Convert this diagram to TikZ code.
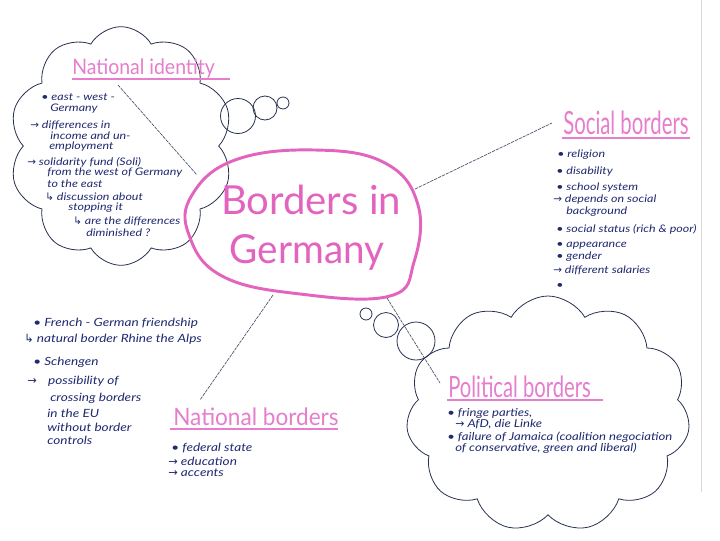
\documentclass[tikz,border=0pt]{standalone}
\usepackage{fontspec}
\usepackage{graphicx}
\setmainfont{Lato}
\newfontfamily\hand{Lato}[FakeStretch=1.2]
\newfontfamily\sym{DejaVu Sans}
\usetikzlibrary{shapes.symbols}
\definecolor{pinkh}{RGB}{230,125,205}
\definecolor{pinke}{RGB}{226,100,190}
\definecolor{navy}{RGB}{32,42,112}
\definecolor{cloudc}{RGB}{40,50,80}
\newcommand{\hd}[2]{\resizebox{#1pt}{\height}{#2}}
\newcommand{\ar}{{\sym\char"2192}}
\newcommand{\har}{{\sym\char"21B3}}
\begin{document}
\begin{tikzpicture}[x=0.75pt,y=-0.75pt,
  body/.style={anchor=west, inner sep=0pt, text=navy, font=\hand\fontsize{7.8}{9}\selectfont\itshape},
  bodym/.style={body, font=\hand\fontsize{8.5}{10}\selectfont\itshape},
  bodyp/.style={body, font=\hand\fontsize{8.2}{10}\selectfont\itshape},
  head/.style={anchor=west, inner sep=0pt, text=pinkh},
  uline/.style={draw=pinkh, line width=1.1pt},
  cl/.style={draw=cloudc, line width=0.6pt},
  conn/.style={draw=cloudc!85, line width=0.5pt, dash pattern=on 2.5pt off 0.7pt},
]
\useasboundingbox (0,0) rectangle (720,540);
\fill[white] (0,0) rectangle (720,540);
\draw[black!15, line width=0.6pt] (701,0) -- (701,492);

% ---------- clouds ----------
\node[cloud, cl, cloud puffs=10, cloud puff arc=120, cloud ignores aspect,
      minimum width=168pt, minimum height=179pt] (cloudA) at (121,146) {};
\draw[cl] (238,116) circle (17.5);
\draw[cl] (265,108) circle (12);
\draw[cl] (283,103) circle (6);

\node[cloud, cl, cloud puffs=11, cloud puff arc=120, cloud ignores aspect,
      minimum width=213pt, minimum height=177pt] (cloudB) at (548,414) {};
\draw[cl] (366,314) circle (6);
\draw[cl] (386,325) circle (12.5);
\draw[cl] (416,341) circle (19);

% ---------- central ellipse ----------
\draw[pinke, line width=2.2pt] plot[smooth cycle, tension=0.7] coordinates
  {(192,195) (235,160) (315,150) (385,163) (418,205) (414,262) (390,296) (300,294) (222,276) (189,235)};
\node[text=pinke, inner sep=0pt, font=\fontsize{30}{34}\selectfont] (t1) at (311,200) {\hd{135}{Borders in}};
\node[text=pinke, inner sep=0pt, font=\fontsize{30}{34}\selectfont] (t2) at (307,252) {\hd{116}{Germany}};

% ---------- connectors ----------
\coordinate (a1) at (118,85);  \coordinate (a2) at (197,175);
\coordinate (b1) at (415,189); \coordinate (b2) at (552,123);
\coordinate (c1) at (273,295); \coordinate (c2) at (200,400);
\coordinate (d1) at (387,298); \coordinate (d2) at (440,383);
\draw[conn] (a1) -- (a2);
\draw[conn] (b1) -- (b2);
\draw[conn] (c1) -- (c2);
\draw[conn] (d1) -- (d2);

% ---------- National identity ----------
\node[head, font=\fontsize{16}{18}\selectfont] (hA) at (72,68) {\hd{107}{National identity}};
\draw[uline] (72,79) -- (230,79);
\node[body] (a01) at (41,97) {• east - west -};
\node[body] (a02) at (50,109) {Germany};
\node[body] (a03) at (30,125) {\ar\ differences in};
\node[body] (a04) at (50,136) {income and un-};
\node[body] (a05) at (49,147) {employment};
\node[body] (a06) at (27,162) {\ar\ solidarity fund (Soli)};
\node[body] (a07) at (47,173) {from the west of Germany};
\node[body] (a08) at (47,184) {to the east};
\node[body] (a09) at (45,197) {\har\ discussion about};
\node[body] (a10) at (68,208) {stopping it};
\node[body] (a11) at (73,221) {\har\ are the differences};
\node[body] (a12) at (86,233) {diminished ?};

% ---------- Social borders ----------
\node[head, font=\fontsize{24}{26}\selectfont] (hB) at (563,123) {\hd{94}{Social borders}};
\draw[uline] (562,138) -- (690,138);
\node[body] (b01) at (557,155) {• religion};
\node[body] (b02) at (556,172) {• disability};
\node[body] (b03) at (556,188) {• school system};
\node[body] (b04) at (553,200) {\ar\ depends on social};
\node[body] (b05) at (566,212) {background};
\node[body] (b06) at (556,229) {• social status (rich \& poor)};
\node[body] (b07) at (556,246) {• appearance};
\node[body] (b08) at (556,257) {• gender};
\node[body] (b09) at (553,270) {\ar\ different salaries};
\node[body] (b10) at (556,286) {•};

% ---------- left text ----------
\node[bodym] (c01) at (33,323) {• French - German friendship};
\node[bodym] (c02) at (24,339) {\har\ natural border Rhine the Alps};
\node[bodym] (c03) at (33,362) {• Schengen};
\node[bodym] (c04) at (27,381) {\ar\quad possibility of};
\node[bodym] (c05) at (50,398) {crossing borders};
\node[bodym] (c06) at (47,413) {in the EU};
\node[bodym] (c07) at (47,427) {without border};
\node[bodym] (c08) at (47,440) {controls};

% ---------- National borders ----------
\node[head, font=\fontsize{18}{20}\selectfont] (hC) at (173,417) {\hd{124}{National borders}};
\draw[uline] (170,429) -- (338,429);
\node[bodym] (d01) at (171,448) {• federal state};
\node[bodym] (d02) at (168,461) {\ar\ education};
\node[bodym] (d03) at (168,473) {\ar\ accents};

% ---------- Political borders ----------
\node[head, font=\fontsize{22}{24}\selectfont] (hD) at (448,387) {\hd{107}{Political borders}};
\draw[uline] (447,400) -- (603,400);
\node[bodyp] (e01) at (447,413) {• fringe parties,};
\node[bodyp] (e02) at (455,424) {\ar\ AfD, die Linke};
\node[bodyp] (e03) at (447,437) {• failure of Jamaica (coalition negociation};
\node[bodyp] (e04) at (455,448) {of conservative, green and liberal)};
\end{tikzpicture}
\end{document}
